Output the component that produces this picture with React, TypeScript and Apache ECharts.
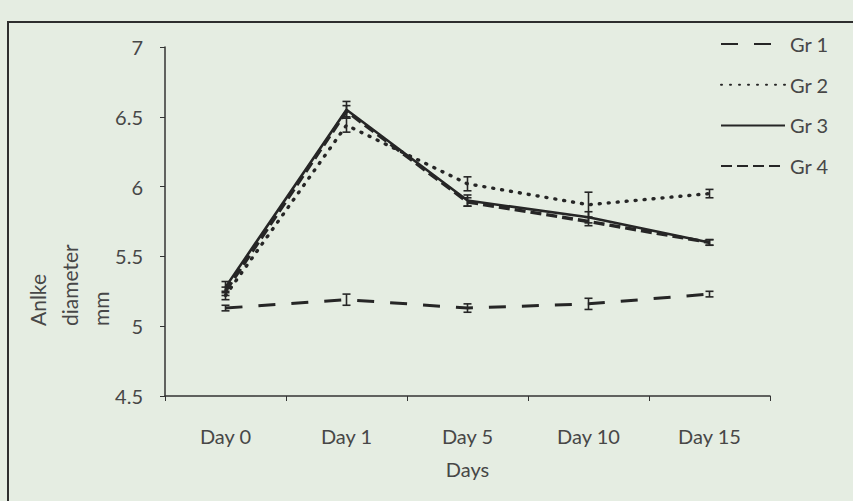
import React, { useEffect, useRef } from "react";
import * as echarts from "echarts";

const days = ["Day 0", "Day 1", "Day 5", "Day 10", "Day 15"];
const yTicks = [4.5, 5, 5.5, 6, 6.5, 7];
const groupNames = ["Gr 1", "Gr 2", "Gr 3", "Gr 4"];

const gr1 = [5.13, 5.19, 5.13, 5.16, 5.23];
const gr1Err = [0.02, 0.04, 0.03, 0.04, 0.02];
const gr2 = [5.22, 6.44, 6.02, 5.87, 5.95];
const gr2Err = [0.03, 0.05, 0.05, 0.09, 0.03];
const gr3 = [5.28, 6.55, 5.9, 5.78, 5.6];
const gr3Err = [0.04, 0.06, 0.04, 0.04, 0.02];
const gr4 = [5.25, 6.54, 5.89, 5.75, 5.6];
const gr4Err = [0.03, 0.04, 0.03, 0.03, 0.02];

const INK = "#262626";
const TXT = "#474747";
const FONT = "Lato, 'Open Sans', sans-serif";

const values = [gr1, gr2, gr3, gr4];
const errors = [gr1Err, gr2Err, gr3Err, gr4Err];
const lineStyles: any[] = [
  { type: [17, 16], width: 3, cap: "butt" },
  { type: [1, 8], width: 3.4, cap: "round" },
  { type: "solid", width: 2.6 },
  { type: [11, 5], width: 3.4, cap: "butt" },
];

export default function App() {
  const ref = useRef<HTMLDivElement>(null);
  useEffect(() => {
    if (!ref.current) return;
    const chart = echarts.init(ref.current, null, { renderer: "svg" });

    const lineSeries = groupNames.map((name, i) => ({
      name,
      type: "line",
      data: values[i],
      symbol: "none",
      lineStyle: { color: INK, ...lineStyles[i] },
      itemStyle: { color: INK },
      z: 3,
    }));

    const errData: any[] = [];
    values.forEach((vals, g) => {
      vals.forEach((v, k) => {
        errData.push([k, v - errors[g][k], v + errors[g][k]]);
      });
    });

    const errSeries = {
      type: "custom",
      name: "err",
      data: errData,
      z: 4,
      renderItem: (params: any, api: any) => {
        const x = api.value(0);
        const lo = api.coord([x, api.value(1)]);
        const hi = api.coord([x, api.value(2)]);
        const hw = 4;
        const st = { stroke: INK, lineWidth: 1.6 };
        return {
          type: "group",
          children: [
            { type: "line", shape: { x1: lo[0], y1: lo[1], x2: hi[0], y2: hi[1] }, style: st },
            { type: "line", shape: { x1: lo[0] - hw, y1: lo[1], x2: lo[0] + hw, y2: lo[1] }, style: st },
            { type: "line", shape: { x1: hi[0] - hw, y1: hi[1], x2: hi[0] + hw, y2: hi[1] }, style: st },
          ],
        };
      },
    };

    chart.setOption({
      animation: false,
      backgroundColor: "#e5ede2",
      textStyle: { fontFamily: FONT },
      grid: { left: 165, top: 47, right: 83, bottom: 105, containLabel: false },
      legend: {
        data: groupNames,
        orient: "vertical",
        left: 715,
        top: 29,
        itemWidth: 64,
        itemHeight: 18,
        itemGap: 20.7,
        itemStyle: { color: "rgba(0,0,0,0)", borderWidth: 0 },
        textStyle: { fontSize: 20, color: TXT, fontFamily: FONT },
        selectedMode: false,
      },
      xAxis: {
        type: "category",
        data: days,
        boundaryGap: true,
        name: "Days",
        nameLocation: "middle",
        nameGap: 63,
        nameTextStyle: { fontSize: 20, color: TXT, fontFamily: FONT },
        axisLine: { lineStyle: { color: "#333", width: 1.5 } },
        axisTick: { show: true, length: 5, lineStyle: { color: "#333" } },
        axisLabel: { fontSize: 20, color: TXT, margin: 30, fontFamily: FONT },
        splitLine: { show: false },
      },
      yAxis: {
        type: "value",
        min: yTicks[0],
        max: yTicks[yTicks.length - 1],
        interval: 0.5,
        axisLine: { show: true, lineStyle: { color: "#333", width: 1.5 } },
        axisTick: { show: true, length: 5, lineStyle: { color: "#333" } },
        axisLabel: { fontSize: 20, color: TXT, margin: 22, fontFamily: FONT },
        splitLine: { show: false },
      },
      graphic: [
        {
          type: "rect",
          shape: { x: 8, y: 22, width: 900, height: 600 },
          style: { fill: "none", stroke: "#2e2e2e", lineWidth: 2 },
          silent: true,
        },
        {
          type: "text",
          x: 22,
          y: 326,
          rotation: Math.PI / 2,
          style: {
            text: "Anlke\ndiameter\nmm",
            fontSize: 21,
            lineHeight: 31.5,
            fill: TXT,
            fontFamily: FONT,
            textAlign: "left",
            textVerticalAlign: "top",
          },
          silent: true,
        },
      ],
      series: [...lineSeries, errSeries],
    });
    return () => chart.dispose();
  }, []);
  return (
    <div
      ref={ref}
      style={{ position: "fixed", left: 0, top: 0, width: 853, height: 501 }}
    />
  );
}
